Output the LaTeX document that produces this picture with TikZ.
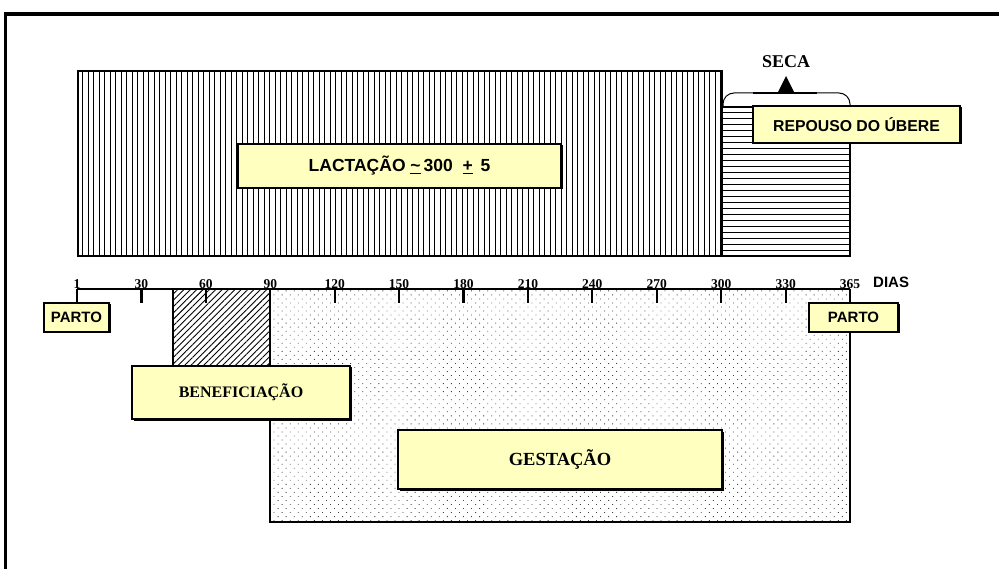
\documentclass[tikz,border=0pt]{standalone}
\usepackage{fontspec}
\setmainfont{Liberation Serif}
\newfontfamily\arialfont{Liberation Sans}
\usetikzlibrary{patterns.meta,shadows}
\definecolor{labfill}{RGB}{255,255,192}
\begin{document}
\begin{tikzpicture}[x=1pt,y=-1pt,
  labelbox/.style={draw=black, line width=1.5pt, fill=labfill, inner sep=0pt,
    drop shadow={shadow xshift=1.5pt, shadow yshift=-1.5pt, opacity=1, fill=black}},
  sanslab/.style={font=\arialfont\bfseries\fontsize{15}{15}\selectfont},
  seriflab/.style={font=\bfseries\fontsize{16}{16}\selectfont},
  ticklab/.style={font=\bfseries\fontsize{13.5}{13.5}\selectfont, inner sep=0.3pt, anchor=south},
  region/.style={draw=black, line width=1.5pt},
  ticksty/.style={line width=2.2pt}]
\useasboundingbox (0,0) rectangle (999,569);
% frame
\draw[line width=3.5pt] (5.5,569) -- (5.5,14) -- (999,14);
% gestation region
\path[pattern={Dots[angle=45, distance=5.7pt, radius=0.6pt]}, pattern color=black!75]
  (270,289) rectangle (850,522);
\draw[region, line width=1.8pt] (270,289) -- (270,522) -- (850,522) -- (850,289);
% beneficiacao hatch
\path[pattern={Lines[angle=45, distance=4.5pt, line width=0.9pt]}, pattern color=black]
  (173,289) rectangle (270,366);
\draw[region] (173,289) rectangle (270,366);
% lactation region
\path[pattern={Lines[angle=90, distance=5.5pt, line width=1pt]}, pattern color=black]
  (78,71) rectangle (722,256);
\draw[region] (78,71) rectangle (722,256);
% seca region
\path[pattern={Lines[angle=0, distance=6pt, line width=1pt]}, pattern color=black]
  (722,107) rectangle (850,256);
\draw[region] (722,107) rectangle (850,256);
% bracket
\coordinate (brL) at (723,106);
\coordinate (brR) at (850,106);
\draw[line width=1pt, rounded corners=11pt] (brL) -- (723,93) -- (850,93) -- (brR);
\draw[line width=2.6pt] (753,93) -- (817,93);
\fill (777.5,93) -- (786,76) -- (794.5,93) -- cycle;
\node[font=\bfseries\fontsize{18}{18}\selectfont, inner sep=0pt] (seca) at (786,62) {SECA};
% axis
\coordinate (axL) at (77,289);
\coordinate (axR) at (850,289);
\draw[ticksty] (axL) -- (axR);
\foreach \lbl [count=\i from 0] in {1,30,60,90,120,150,180,210,240,270,300,330,365} {
  \coordinate (t\i) at ({77+64.42*\i},289);
  \draw[ticksty] (t\i) -- ++(0,14);
  \node[ticklab] (l\i) at (t\i) {\lbl};
}
\node[sanslab, anchor=west, inner sep=0pt] (dias) at (873,282) {DIAS};
% labels
\node[labelbox, minimum width=323pt, minimum height=44pt,
  font=\arialfont\bfseries\fontsize{17.5}{17.5}\selectfont] (lact) at (399.5,166)
  {LACTAÇÃO \underline{\textasciitilde}\,300 \ \underline{+}\ \,5};
\node[labelbox, minimum width=207pt, minimum height=37pt,
  font=\arialfont\bfseries\fontsize{15.8}{15.8}\selectfont] (repouso) at (856.5,124.5) {REPOUSO DO ÚBERE};
\node[labelbox, sanslab, minimum width=65pt, minimum height=29pt] (partoL) at (76.5,317.5) {PARTO};
\node[labelbox, sanslab, minimum width=89pt, minimum height=29pt] (partoR) at (853.5,317.5) {PARTO};
\node[labelbox, seriflab, minimum width=218pt, minimum height=53pt] (benef) at (241,392.5) {BENEFICIAÇÃO};
\node[labelbox, font=\bfseries\fontsize{18.5}{18.5}\selectfont, minimum width=324pt, minimum height=59pt] (gest) at (560,459.5) {GESTAÇÃO};
\end{tikzpicture}
\end{document}
